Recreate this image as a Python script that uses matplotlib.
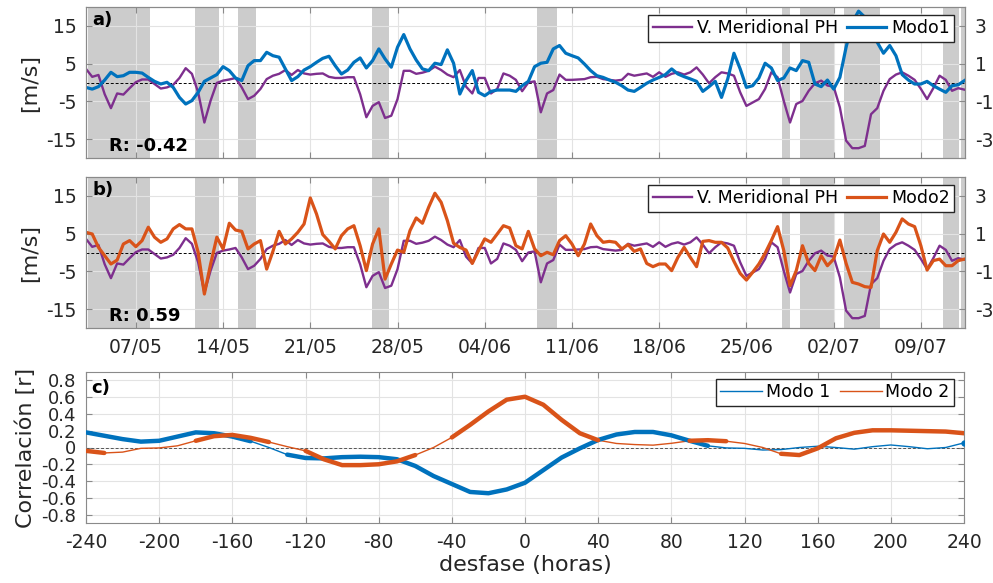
import numpy as np
import pandas as pd
import matplotlib
matplotlib.use('Agg')
import matplotlib.pyplot as plt

plt.rcParams['font.family'] = 'DejaVu Sans'
plt.rcParams['axes.unicode_minus'] = False
plt.rcParams['lines.solid_joinstyle'] = 'round'

# V. meridional PH [m/s], every 12 h starting 03/05 00:00
vmer = [3.6, 1.5, 2.0, -3.1, -6.8, -2.9, -3.2, -1.5, 0.1, 0.8,
        0.8, -0.4, -1.6, -1.3, -0.6, 1.2, 3.8, 2.3, -2.6, -10.6,
        -4.8, -0.1, 0.5, 0.8, 1.2, -1.3, -4.4, -3.5, -1.7, 0.9,
        1.8, 2.3, 3.3, 2.0, 3.3, 2.4, 2.1, 2.3, 2.4, 1.5,
        1.2, 1.2, 1.4, 1.4, -3.1, -9.2, -6.2, -5.2,
        -9.4, -8.8, -4.4, 3.1, 3.1, 2.3, 2.6, 3.1, 4.2, 3.3,
        2.1, 1.4, 3.3, -1.1, -2.9, 1.2, 1.2, -2.9, -1.7, 2.4,
        1.8, 0.7, -2.3, 0.0, 0.3, -7.9, -2.9, -2.0, 2.1, 0.7,
        0.7, 0.8, 0.9, 1.4, 1.5, 0.9, 0.7, 0.5, 0.7, 2.3,
        1.8, 2.1, 2.4, 1.5, 2.7, 1.5, 2.3, 2.7,
        2.1, 2.7, 4.0, 2.1, -0.2, 1.4, 2.7, 2.4, 1.8, -2.6,
        -6.2, -5.3, -4.4, -1.7, 2.7, 1.4, -4.9, -10.6, -5.7, -4.9,
        -2.2, -0.2, 0.5, -0.8, -1.1, -6.6, -15.4, -17.4, -17.4, -16.8,
        -8.4, -6.8, -2.2, 0.9, 2.1, 2.7, 1.8, 0.7, -1.7, -4.4,
        -1.5, 1.8, 0.7, -2.2, -1.5, -1.9]

# amplitudes of the two modes (right axis)
modo1 = [-0.26, -0.35, -0.22, 0.13, 0.54, 0.31, 0.36, 0.54, 0.54, 0.50,
         0.27, 0.06, -0.08, 0.01, -0.26, -0.79, -1.14, -0.96, -0.52, 0.06,
         0.24, 0.42, 0.84, 0.63, 0.24, 0.10, 0.89, 1.16, 1.16, 1.60,
         1.42, 1.34, 0.72, 0.10, 0.31, 0.66, 0.84, 1.07, 1.28, 1.39,
         0.89, 0.45, 0.66, 1.07, 1.30, 0.77, 1.16, 1.78,
         1.25, 0.81, 1.87, 2.54, 1.78, 1.19, 0.72, 0.63, 1.02, 0.95,
         1.73, 1.02, -0.61, 0.10, 0.63, -0.52, -0.70, -0.47, -0.40, -0.40,
         -0.40, -0.47, -0.17, 0.06, 0.84, 1.02, 1.07, 1.78, 1.96, 1.55,
         1.42, 1.30, 0.98, 0.63, 0.36, 0.27, 0.13, 0.01, -0.17, -0.40,
         -0.47, -0.26, -0.04, 0.13, 0.27, 0.42, 0.72, 0.45,
         0.31, 0.19, 0.06, -0.47, -0.22, 0.06, -0.79, 0.19, 1.55, 0.72,
         -0.26, -0.17, 0.24, 1.02, 0.77, 0.10, 0.24, 0.77, 0.63, 1.16,
         1.07, -0.08, -0.22, 0.13, -0.35, 0.27, 1.87, 3.19, 3.78, 3.46,
         2.84, 2.13, 1.55, 1.96, 1.42, 0.42, 0.13, -0.08, -0.08, 0.06,
         -0.17, -0.35, -0.52, -0.17, -0.12, 0.10]

modo2 = [1.07, 0.98, 0.27, -0.17, -0.61, -0.40, 0.45, 0.63, 0.31, 0.63,
         1.34, 0.81, 0.54, 0.72, 1.25, 1.48, 1.25, 1.25, 0.01, -2.20,
         -0.61, 0.81, 0.19, 1.55, 1.19, 1.12, 0.19, 0.45, 0.63, -0.88,
         0.06, 1.12, 0.45, 0.72, 1.07, 1.51, 2.89, 2.04, 0.95, 0.59,
         0.19, 0.89, 1.25, 1.42, 0.36, -0.96, 0.45, 1.25,
         -1.41, -0.61, 0.13, 0.01, 1.16, 1.83, 1.55, 2.40, 3.14, 2.66,
         1.69, 0.49, 0.27, 0.13, -0.58, 0.10, 0.72, 0.54, 0.98, 1.42,
         1.30, 0.36, 0.19, 1.12, 0.19, -0.17, 0.01, -0.12, 0.63, 0.89,
         0.45, -0.17, 0.45, 1.51, 0.89, 0.54, 0.59, 0.54, 0.19, 0.42,
         0.06, 0.19, -0.58, -0.75, -0.61, -0.61, -0.96, -0.26,
         0.27, -0.26, -0.75, 0.59, 0.63, 0.54, 0.54, 0.24, -0.47, -1.11,
         -1.46, -1.05, -0.61, -0.04, 0.63, 1.37, 0.10, -1.76, -0.96, 0.36,
         -0.58, -0.96, -0.17, -0.70, -0.35, 0.66, -0.58, -1.58, -1.67, -1.81,
         -1.85, 0.10, 0.98, 0.54, 1.07, 1.78, 1.51, 1.37, 0.36, -0.93,
         -0.43, -0.35, -0.70, -0.70, -0.43, -0.35]

t = pd.date_range('2019-05-03', periods=len(vmer), freq='12h')

# shaded periods
periodos = [('2019-05-03 04:00', '2019-05-08 04:00'),
            ('2019-05-11 17:30', '2019-05-13 16:00'),
            ('2019-05-15 04:00', '2019-05-16 15:00'),
            ('2019-05-25 22:30', '2019-05-27 08:00'),
            ('2019-06-08 04:00', '2019-06-09 19:30'),
            ('2019-06-27 20:30', '2019-06-28 12:30'),
            ('2019-06-29 08:00', '2019-07-02 01:00'),
            ('2019-07-02 19:00', '2019-07-05 18:00'),
            ('2019-07-10 19:00', '2019-07-12 00:30'),
            ('2019-07-12 06:00', '2019-07-12 13:00')]

R_modos = [-0.42, 0.59]

# lagged correlation, lag in hours
lag = np.arange(-240, 241, 10)
r1 = [0.18, 0.14, 0.10, 0.07, 0.08, 0.13, 0.18, 0.17, 0.13, 0.075,
      0.0, -0.085, -0.125, -0.13, -0.115, -0.11, -0.115, -0.14, -0.22, -0.34,
      -0.435, -0.53, -0.545, -0.50, -0.42, -0.27, -0.12, -0.01, 0.09, 0.155,
      0.185, 0.185, 0.145, 0.08, 0.02, -0.005, -0.01, -0.03, -0.025, 0.0,
      0.015, 0.0, -0.02, 0.01, 0.03, 0.01, -0.015, 0.0, 0.055]
r2 = [-0.04, -0.065, -0.055, -0.01, -0.005, 0.02, 0.08, 0.135, 0.15, 0.115,
      0.065, 0.01, -0.04, -0.14, -0.21, -0.21, -0.2, -0.165, -0.09, 0.0,
      0.12, 0.27, 0.43, 0.57, 0.605, 0.51, 0.33, 0.17, 0.087, 0.048,
      0.035, 0.028, 0.05, 0.08, 0.087, 0.075, 0.048, 0.0, -0.075, -0.09,
      -0.01, 0.11, 0.175, 0.205, 0.205, 0.2, 0.195, 0.19, 0.17]
# 1 = significant
sig1 = [1] * 10 + [0] + [1] * 24 + [0] * 13 + [1]
sig2 = [1, 1, 0, 0, 0, 0, 1, 1, 1, 1, 1, 0, 1, 1, 1, 1, 1, 1, 1, 0,
        1, 1, 1, 1, 1, 1, 1, 1, 1, 0, 0, 0, 0, 1, 1, 1, 0, 0, 1, 1,
        1, 1, 1, 1, 1, 1, 1, 1, 1]

morado = '#7E2F8E'
azul = '#0072BD'
naranja = '#D95319'
gris_txt = '#262626'
borde = '#8a8a8a'

fig = plt.figure(figsize=(9.93, 5.83), dpi=100)
W, H = 993, 583


def caja(x0, x1, y0, y1):
    return [x0 / W, 1 - y1 / H, (x1 - x0) / W, (y1 - y0) / H]


fechas = pd.date_range('2019-05-07', '2019-07-09', freq='7D')
xlim = (pd.Timestamp('2019-05-03'), pd.Timestamp('2019-07-12 13:00'))

paneles = [(caja(86, 965, 7, 158), modo1, azul, 'Modo1', 'a)'),
           (caja(86, 965, 177, 328), modo2, naranja, 'Modo2', 'b)')]

for k, (pos, modo, col, nombre, letra) in enumerate(paneles):
    ax = fig.add_axes(pos)
    for a, b in periodos:
        ax.axvspan(pd.Timestamp(a), pd.Timestamp(b), color='#cccccc', lw=0, zorder=0)
    ax.axhline(0, color='k', ls='--', lw=0.7, dashes=(3, 2), zorder=1)
    lv, = ax.plot(t, vmer, color=morado, lw=1.7, zorder=2, label='V. Meridional PH')
    ax.set_ylim(-20, 20)
    ax.set_yticks([-15, -5, 5, 15])
    ax.set_xlim(*xlim)
    ax.set_xticks(fechas)
    ax.set_xticklabels([f.strftime('%d/%m') for f in fechas])
    ax.grid(True, color='#e3e3e3', lw=0.8)
    ax.set_axisbelow(True)
    ax.set_ylabel('[m/s]', fontsize=16, color=gris_txt, labelpad=4)
    ax.tick_params(direction='in', top=True, labelsize=13.5, labelcolor=gris_txt,
                   color=borde, pad=7, length=4)
    if k == 0:
        ax.tick_params(labelbottom=False)
    for s in ax.spines.values():
        s.set_color(borde)
    ax.text(0.007, 0.975, letra, transform=ax.transAxes, fontsize=13,
            fontweight='bold', ha='left', va='top', zorder=5)
    ax.text(0.026, 0.046, 'R: %.2f' % R_modos[k], transform=ax.transAxes,
            fontsize=13, fontweight='bold', ha='left', va='baseline', zorder=5)

    ax2 = ax.twinx()
    lm, = ax2.plot(t, modo, color=col, lw=2.3, label=nombre)
    ax2.set_ylim(-4, 4)
    ax2.set_yticks([-3, -1, 1, 3])
    ax2.tick_params(direction='in', labelsize=13.5, labelcolor=gris_txt,
                    color=borde, pad=7, length=4)
    for s in ax2.spines.values():
        s.set_color(borde)
    ax2.legend(handles=[lv, lm], loc='upper right', bbox_to_anchor=(0.9875, 0.947),
               borderaxespad=0, fontsize=12.5, ncol=2, fancybox=False,
               framealpha=1, edgecolor=gris_txt, handlelength=2.25,
               handletextpad=0.3, columnspacing=0.5, borderpad=0.25)

# lagged correlation panel
ax3 = fig.add_axes(caja(86, 964, 372, 523))
ax3.axhline(0, color='#555555', ls='--', lw=0.7, dashes=(3, 2), zorder=1)
lineas = []
for r, sig, col, nombre in ((r1, sig1, azul, 'Modo 1'), (r2, sig2, naranja, 'Modo 2')):
    r = np.array(r)
    sig = np.array(sig)
    l, = ax3.plot(lag, r, color=col, lw=1.0, label=nombre, zorder=2)
    lineas.append(l)
    # thick line over the significant stretches
    ax3.plot(lag, np.where(sig == 1, r, np.nan), color=col, lw=3.2,
             solid_capstyle='round', zorder=3)
    # single significant points get a dot
    vecinos = np.convolve(np.r_[0, sig, 0], [1, 0, 1], mode='valid')
    solos = (sig == 1) & (vecinos == 0)
    ax3.plot(lag[solos], r[solos], 'o', color=col, ms=3.5, zorder=3)
ax3.set_xlim(-240, 240)
ax3.set_ylim(-0.9, 0.9)
ax3.set_xticks(np.arange(-240, 241, 40))
ax3.set_yticks(np.round(np.arange(-0.8, 0.81, 0.2), 1))
ax3.set_yticklabels(['-0.8', '-0.6', '-0.4', '-0.2', '0', '0.2', '0.4', '0.6', '0.8'])
ax3.grid(True, color='#e3e3e3', lw=0.8)
ax3.set_axisbelow(True)
ax3.tick_params(direction='in', top=True, right=True, labelsize=13.5,
                labelcolor=gris_txt, color=borde, pad=7, length=4)
ax3.tick_params(axis='y', labelsize=13)
for s in ax3.spines.values():
    s.set_color(borde)
ax3.set_xlabel('desfase (horas)', fontsize=16, color=gris_txt, labelpad=2)
ax3.set_ylabel('Correlación [r]', fontsize=16, color=gris_txt, labelpad=4)
ax3.text(0.006, 0.955, 'c)', transform=ax3.transAxes, fontsize=13,
         fontweight='bold', ha='left', va='top')
ax3.legend(handles=lineas, loc='upper right', bbox_to_anchor=(0.9886, 0.954),
           borderaxespad=0, fontsize=12.5, ncol=2, fancybox=False, framealpha=1,
           edgecolor=gris_txt, handlelength=2.4, handletextpad=0.2,
           columnspacing=0.6, borderpad=0.25)

fig.savefig('out.png', dpi=100)
